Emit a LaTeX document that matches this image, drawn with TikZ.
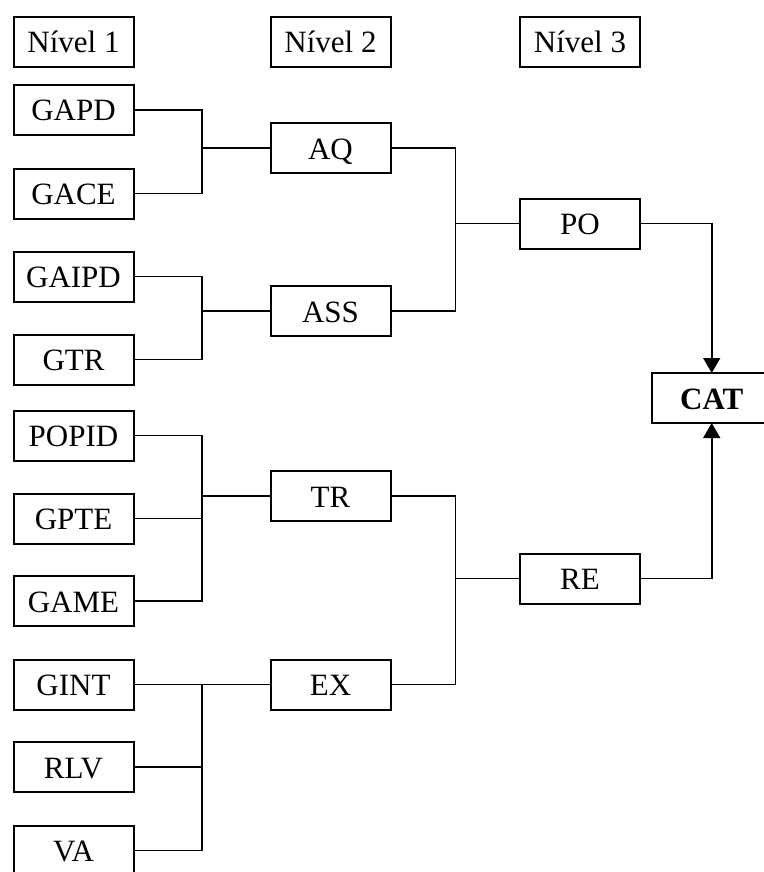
\documentclass[tikz,border=0pt]{standalone}
\usepackage{fontspec}
\setmainfont{Liberation Serif}
\usetikzlibrary{arrows.meta}
\begin{document}
\begin{tikzpicture}[x=1pt,y=-1pt,
  boxnode/.style={draw,line width=2pt,minimum width=120pt,minimum height=50pt,inner sep=0pt,outer sep=0pt,
    font=\fontsize{31}{37}\selectfont,text height=22pt,text depth=0pt},
  conn/.style={line width=1.6pt},
  arr/.style={line width=1.6pt,-{Triangle[width=17pt,length=15pt]}}]
\useasboundingbox (0,0) rectangle (763,872);
% level 1
\node[boxnode] (N1) at (73.5,42) {Nível 1};
\node[boxnode] (GAPD) at (73.5,110) {GAPD};
\node[boxnode] (GACE) at (73.5,193.5) {GACE};
\node[boxnode] (GAIPD) at (73.5,276.5) {GAIPD};
\node[boxnode] (GTR) at (73.5,359.5) {GTR};
\node[boxnode] (POPID) at (73.5,435.5) {POPID};
\node[boxnode] (GPTE) at (73.5,518.5) {GPTE};
\node[boxnode] (GAME) at (73.5,601) {GAME};
\node[boxnode] (GINT) at (73.5,684.5) {GINT};
\node[boxnode] (RLV) at (73.5,767) {RLV};
\node[boxnode] (VA) at (73.5,850.5) {VA};
% level 2
\node[boxnode] (N2) at (330.5,42) {Nível 2};
\node[boxnode] (AQ) at (330.5,148) {AQ};
\node[boxnode] (ASS) at (330.5,311) {ASS};
\node[boxnode] (TR) at (330.5,496) {TR};
\node[boxnode] (EX) at (330.5,684.5) {EX};
% level 3
\node[boxnode] (N3) at (580,42) {Nível 3};
\node[boxnode] (PO) at (580,223.5) {PO};
\node[boxnode] (RE) at (580,578.5) {RE};
% CAT
\node[boxnode,font=\fontsize{31}{37}\selectfont\bfseries] (CAT) at (711.7,398) {CAT};
% junctions
\coordinate (jA) at (202,148);
\coordinate (jS) at (202,311);
\coordinate (jT) at (202,496);
\coordinate (jE) at (202,684.5);
\coordinate (jP) at (455.5,223.5);
\coordinate (jR) at (455.5,578.5);
% group AQ
\draw[conn] (GAPD.east) -| (jA) |- (GACE.east);
\draw[conn] (jA) -- (AQ.west);
% group ASS
\draw[conn] (GAIPD.east) -| (jS) |- (GTR.east);
\draw[conn] (jS) -- (ASS.west);
% group TR
\draw[conn] (POPID.east) -| (jT) |- (GAME.east);
\draw[conn] (GPTE.east) -| (jT);
\draw[conn] (jT) -- (TR.west);
% group EX
\draw[conn] (GINT.east) -- (EX.west);
\draw[conn] (jE) |- (VA.east);
\draw[conn] (RLV.east) -| (jE);
% group PO
\draw[conn] (AQ.east) -| (jP) |- (ASS.east);
\draw[conn] (jP) -- (PO.west);
% group RE
\draw[conn] (TR.east) -| (jR) |- (EX.east);
\draw[conn] (jR) -- (RE.west);
% to CAT
\draw[arr] (PO.east) -| (CAT.north);
\draw[arr] (RE.east) -| (CAT.south);
\end{tikzpicture}
\end{document}
